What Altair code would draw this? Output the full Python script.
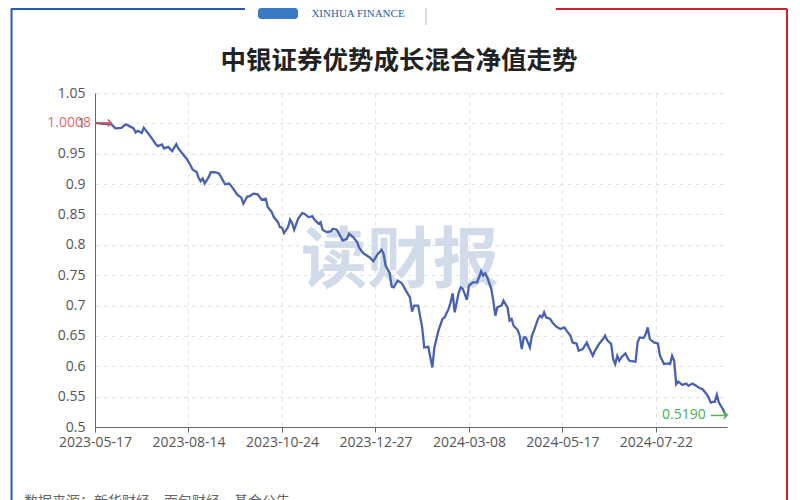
import json
import altair as alt
import pandas as pd

title_text = "中银证券优势成长混合净值走势"
x_tick_pos = [0, 46, 92, 138, 184, 230, 276]
x_tick_labels = ["2023-05-17", "2023-08-14", "2023-10-24", "2023-12-27",
                 "2024-03-08", "2024-05-17", "2024-07-22"]
y_ticks = [0.5, 0.55, 0.6, 0.65, 0.7, 0.75, 0.8, 0.85, 0.9, 0.95, 1.0, 1.05]

day_index = [
    0, 4, 8, 10, 13, 15, 16, 19, 20, 21, 23, 24, 26, 28, 30, 31, 33, 34, 36, 38,
    40, 41, 43, 45, 47, 48, 50, 51, 52, 53, 54, 56, 57, 59, 61, 62, 64, 66, 68, 70,
    72, 73, 75, 76, 78, 80, 82, 84, 85, 87, 88, 90, 91, 92, 93, 95, 96, 97, 98, 100,
    102, 103, 105, 107, 108, 110, 111, 112, 114, 116, 117, 119, 121, 122, 124, 125, 127, 129, 130, 132,
    133, 135, 137, 139, 141, 142, 143, 145, 146, 147, 149, 151, 153, 155, 156, 157, 159, 161, 162, 164,
    166, 167, 169, 171, 172, 174, 175, 176, 177, 179, 180, 181, 183, 184, 186, 188, 189, 190, 191, 192,
    193, 195, 196, 197, 198, 200, 201, 203, 204, 205, 206, 208, 209, 210, 211, 212, 214, 215, 216, 218,
    219, 220, 221, 222, 224, 225, 227, 229, 231, 232, 234, 235, 237, 238, 240, 242, 243, 245, 246, 248,
    250, 251, 252, 254, 255, 256, 257, 258, 259, 261, 262, 263, 265, 266, 267, 268, 270, 271, 272, 273,
    275, 277, 278, 280, 282, 283, 284, 285, 286, 287, 289, 291, 292, 294, 296, 297, 299, 301, 302, 303,
    304, 305, 306, 307, 308, 309, 310, 311,
]
nav = [
    1.0008, 0.9990, 0.9988, 0.9917, 0.9927, 0.9983, 0.9971, 0.9917, 0.9851, 0.9877, 0.9844, 0.9927, 0.9844, 0.9752, 0.9653, 0.9625, 0.9653, 0.9587, 0.9613, 0.9542,
    0.9658, 0.9587, 0.9504, 0.9422, 0.9311, 0.9240, 0.9200, 0.9101, 0.9047, 0.9091, 0.9009, 0.9118, 0.9195, 0.9195, 0.9174, 0.9118, 0.8997, 0.9009, 0.8926, 0.8827,
    0.8777, 0.8678, 0.8799, 0.8799, 0.8843, 0.8832, 0.8744, 0.8761, 0.8622, 0.8540, 0.8457, 0.8374, 0.8292, 0.8282, 0.8193, 0.8292, 0.8414, 0.8358, 0.8249, 0.8431,
    0.8523, 0.8513, 0.8457, 0.8469, 0.8414, 0.8348, 0.8374, 0.8249, 0.8209, 0.8221, 0.8265, 0.8249, 0.8127, 0.8072, 0.8100, 0.8183, 0.8127, 0.8044, 0.7952, 0.7862,
    0.7841, 0.7796, 0.7730, 0.7841, 0.7919, 0.7852, 0.7659, 0.7532, 0.7312, 0.7301, 0.7412, 0.7367, 0.7246, 0.7136, 0.6900, 0.6999, 0.6999, 0.6640, 0.6310, 0.6321,
    0.5980, 0.6310, 0.6586, 0.6779, 0.6805, 0.6944, 0.7053, 0.7202, 0.6888, 0.7218, 0.7301, 0.7274, 0.7093, 0.7329, 0.7383, 0.7383, 0.7466, 0.7565, 0.7494, 0.7532,
    0.7466, 0.7274, 0.7081, 0.6833, 0.6971, 0.6999, 0.7081, 0.6971, 0.6751, 0.6779, 0.6668, 0.6597, 0.6503, 0.6284, 0.6475, 0.6475, 0.6310, 0.6503, 0.6586, 0.6779,
    0.6833, 0.6805, 0.6888, 0.6805, 0.6779, 0.6723, 0.6652, 0.6614, 0.6640, 0.6586, 0.6503, 0.6392, 0.6371, 0.6255, 0.6284, 0.6392, 0.6310, 0.6173, 0.6255, 0.6366,
    0.6449, 0.6503, 0.6432, 0.6366, 0.6118, 0.6036, 0.6173, 0.6090, 0.6145, 0.6211, 0.6145, 0.6090, 0.6079, 0.6074, 0.6392, 0.6475, 0.6465, 0.6531, 0.6640, 0.6449,
    0.6392, 0.6376, 0.6173, 0.6036, 0.6046, 0.6036, 0.6173, 0.6090, 0.5705, 0.5748, 0.5694, 0.5715, 0.5677, 0.5715, 0.5677, 0.5649, 0.5623, 0.5540, 0.5484, 0.5402,
    0.5413, 0.5413, 0.5529, 0.5402, 0.5347, 0.5293, 0.5220, 0.5190,
]
assert len(day_index) == len(nav)

start_label, start_value, start_from, start_to = "1.0008", 1.0008, 0, 8
end_label, end_value, end_from, end_to = "0.5190", 0.5190, 303, 311
watermark = "读财报"
footer = "数据来源：新华财经、面包财经、基金公告"
brand = "XINHUA FINANCE"

df = pd.DataFrame({"i": day_index, "nav": nav})
start_df = pd.DataFrame({"i": [start_from], "i2": [start_to], "nav": [start_value], "label": [start_label]})
end_df = pd.DataFrame({"i": [end_from], "i2": [end_to], "nav": [end_value], "label": [end_label]})
one = pd.DataFrame({"t": [""]})

W, H = 632, 334
CJK = "Noto Sans CJK SC"
NUM = "Open Sans"

x_scale = alt.Scale(domain=[0, day_index[-1]], nice=False, zero=False)
y_scale = alt.Scale(domain=[min(y_ticks), max(y_ticks)], nice=False, zero=False)

label_expr = f"{json.dumps(x_tick_labels)}[indexof({json.dumps(x_tick_pos)}, datum.value)]"

x_axis = alt.Axis(values=x_tick_pos, labelExpr=label_expr, title=None, grid=True,
                  gridDash=[4, 4], gridColor="#e2e2e2", domainColor="#666666", tickColor="#666666",
                  tickSize=5, labelPadding=3, labelFontSize=14, labelColor="#555555",
                  labelFont=NUM, labelFlush=False, labelOverlap=False)
y_axis = alt.Axis(values=y_ticks, format="~g", title=None, grid=True, gridDash=[4, 4],
                  gridColor="#e2e2e2", domainColor="#666666", ticks=False, labelPadding=10,
                  labelFontSize=14, labelColor="#555555", labelFont=NUM, labelOverlap=False,
                  labelFlush=False)


def X(field):
    return alt.X(field, type="quantitative", scale=x_scale, axis=x_axis)


def Y(field):
    return alt.Y(field, type="quantitative", scale=y_scale, axis=y_axis)


line = alt.Chart(df).mark_line(color="#4862b0", strokeWidth=2.3).encode(
    x=X("i"), y=Y("nav"))

mark_layer = alt.Chart(one).mark_text(
    text=watermark, font=CJK, fontSize=66, fontWeight="bold", color="#c9d5e7", opacity=0.85,
    align="center", baseline="middle",
).encode(x=alt.value(305), y=alt.value(169))


def annotation(data, color, text_color, dx):
    rule = alt.Chart(data).mark_rule(color=color, strokeWidth=1.5).encode(
        x=X("i"), x2="i2:Q", y=Y("nav"))
    head = alt.Chart(data).mark_point(shape="M-1,-1L0,0L-1,1", filled=False, size=45,
                                      strokeWidth=1.5, color=color, opacity=1).encode(
        x=X("i2"), y=Y("nav"))
    txt = alt.Chart(data).mark_text(align="right", baseline="middle", dx=dx, fontSize=14,
                                    font=NUM, color=text_color).encode(
        x=X("i"), y=Y("nav"), text="label:N")
    return [rule, head, txt]


ann = annotation(start_df, "#d9534f", "#e26a6a", -4) + annotation(end_df, "#55b35a", "#4caf50", -5)

# frame and header decorations (kept inside the top edge of the drawing)
left_edge = alt.Chart(one).mark_rule(color="#2b5ba8", strokeWidth=2).encode(
    x=alt.value(-83.5), y=alt.value(-84), y2=alt.value(420))
right_edge = alt.Chart(one).mark_rule(color="#c1272d", strokeWidth=2).encode(
    x=alt.value(692), y=alt.value(-84), y2=alt.value(420))
top_left = alt.Chart(one).mark_rule(color="#2b5ba8", strokeWidth=2).encode(
    x=alt.value(-84), x2=alt.value(150), y=alt.value(-84))
top_right = alt.Chart(one).mark_rule(color="#c1272d", strokeWidth=2).encode(
    x=alt.value(461), x2=alt.value(692), y=alt.value(-84))
logo = alt.Chart(one).mark_rect(color="#3a79c4", cornerRadius=3).encode(
    x=alt.value(163), x2=alt.value(203), y=alt.value(-85), y2=alt.value(-74))
brand_txt = alt.Chart(one).mark_text(text=brand, font="Liberation Serif", fontSize=11,
                                     color="#1f5fa8", align="center", baseline="middle").encode(
    x=alt.value(263), y=alt.value(-79))
sep = alt.Chart(one).mark_rule(color="#bbbbbb", strokeWidth=1).encode(
    x=alt.value(331), y=alt.value(-85), y2=alt.value(-68))
foot = alt.Chart(one).mark_text(text=footer, font=CJK, fontSize=14, color="#666666",
                                align="left", baseline="top").encode(
    x=alt.value(-71), y=alt.value(402))

chart = alt.layer(
    left_edge, right_edge, top_left, top_right, logo, brand_txt, sep, foot,
    mark_layer, line, *ann
).properties(
    width=W, height=H,
    title=alt.TitleParams(text=title_text, font=CJK, fontSize=25.5, fontWeight="bold",
                          color="#222222", anchor="middle", dx=-12, offset=0, dy=87,
                          frame="group", baseline="alphabetic"),
    autosize=alt.AutoSizeParams(type="none"),
    padding={"left": 87, "top": 85, "right": 65, "bottom": 80},
).configure_view(stroke=None)

chart.save("out.html", embed_options={"renderer": "svg", "actions": False})
